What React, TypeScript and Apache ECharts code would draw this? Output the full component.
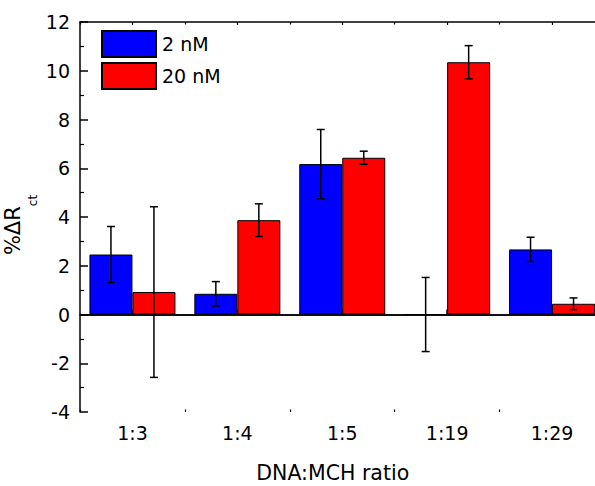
import React, { useEffect, useRef } from "react";
import * as echarts from "echarts";

const categories = ["1:3", "1:4", "1:5", "1:19", "1:29"];
const blueName = "2 nM";
const redName = "20 nM";
const blueValues = [2.46, 0.85, 6.17, 0, 2.67];
const blueErrors = [1.15, 0.5, 1.42, 1.52, 0.5];
const redValues = [0.92, 3.87, 6.43, 10.35, 0.44];
const redErrors = [3.5, 0.67, 0.27, 0.68, 0.24];
const yTicks = { min: -4, max: 12, interval: 2 };
const yTitleMain = "%ΔR";
const yTitleSub = "ct";

const FONT = "DejaVu Sans";
const BAR_W = 43;

function errData(vals: number[], errs: number[]) {
  return vals.map((v, i) => [i, v, v - errs[i], v + errs[i]]);
}

function errorRender(offset: number) {
  return (params: any, api: any) => {
    const idx = api.value(0);
    const lo = api.coord([idx, api.value(2)]);
    const hi = api.coord([idx, api.value(3)]);
    const cx = hi[0] + offset;
    const hw = 4;
    const style = { stroke: "#000", lineWidth: 1.5 };
    return {
      type: "group",
      children: [
        { type: "line", shape: { x1: cx, y1: hi[1], x2: cx, y2: lo[1] }, style },
        { type: "line", shape: { x1: cx - hw, y1: hi[1], x2: cx + hw, y2: hi[1] }, style },
        { type: "line", shape: { x1: cx - hw, y1: lo[1], x2: cx + hw, y2: lo[1] }, style },
      ],
    };
  };
}

export default function App() {
  const ref = useRef<HTMLDivElement>(null);
  useEffect(() => {
    if (!ref.current) return;
    const chart = echarts.init(ref.current, null, { renderer: "svg" });
    const axisLine = { show: true, lineStyle: { color: "#000", width: 1.5 } };
    const hiddenLabel = { show: false };
    chart.setOption({
      animation: false,
      backgroundColor: "#fff",
      textStyle: { fontFamily: FONT },
      grid: { left: 80, top: 22, right: 0.5, bottom: 74, containLabel: false, outerBoundsMode: "none" },
      legend: {
        orient: "vertical",
        left: 96,
        top: 25,
        itemWidth: 54,
        itemHeight: 26,
        itemGap: 4,
        icon: "rect",
        textStyle: { fontFamily: FONT, fontSize: 19, color: "#000", padding: [0, 0, 0, 1] },
        data: [blueName, redName],
      },
      graphic: [
        {
          type: "text",
          x: 20.5,
          y: 225,
          rotation: Math.PI / 2,
          silent: true,
          style: {
            text: `{a|${yTitleMain}}{b|${yTitleSub}}`,
            align: "center",
            verticalAlign: "middle",
            fill: "#000",
            rich: {
              a: { fontFamily: FONT, fontSize: 21, fill: "#000", lineHeight: 37, verticalAlign: "top" },
              b: { fontFamily: FONT, fontSize: 12, fill: "#000", lineHeight: 12, verticalAlign: "bottom" },
            },
          },
        },
      ],
      xAxis: [
        {
          type: "category",
          data: categories,
          position: "bottom",
          axisLine,
          axisTick: { show: true, inside: true, alignWithLabel: true, length: 5, lineStyle: { color: "#000", width: 1.5 } },
          axisLabel: { fontFamily: FONT, fontSize: 19, color: "#000", margin: 11 },
          name: "DNA:MCH ratio",
          nameLocation: "middle",
          nameGap: 50,
          nameMoveOverlap: false,
          nameTextStyle: { fontFamily: FONT, fontSize: 20.5, color: "#000", padding: [0, 19, 0, 0] },
          splitLine: { show: false },
        },
        {
          type: "category",
          data: categories,
          position: "bottom",
          axisLine: { show: false },
          axisTick: { show: true, inside: true, length: 2.5, lineStyle: { color: "#000", width: 1.2 } },
          axisLabel: hiddenLabel,
          splitLine: { show: false },
        },
        {
          type: "category",
          data: categories,
          position: "top",
          axisLine,
          axisTick: { show: true, inside: true, alignWithLabel: true, length: 3, lineStyle: { color: "#000", width: 1.2 } },
          axisLabel: hiddenLabel,
          splitLine: { show: false },
        },
        {
          type: "category",
          data: categories,
          position: "top",
          axisLine: { show: false },
          axisTick: { show: true, inside: true, length: 2.5, lineStyle: { color: "#000", width: 1.2 } },
          axisLabel: hiddenLabel,
          splitLine: { show: false },
        },
      ],
      yAxis: {
        type: "value",
        min: yTicks.min,
        max: yTicks.max,
        interval: yTicks.interval,
        axisLine,
        axisTick: { show: true, inside: true, length: 8, lineStyle: { color: "#000", width: 1.5 } },
        minorTick: { show: true, splitNumber: 2, length: 4, lineStyle: { color: "#000", width: 1.2 } },
        axisLabel: { fontFamily: FONT, fontSize: 19, color: "#000", margin: 10 },
        splitLine: { show: false },
      },
      series: [
        {
          name: blueName,
          type: "bar",
          xAxisIndex: 0,
          data: blueValues,
          barWidth: BAR_W,
          barGap: "0%",
          itemStyle: { color: "#0000FF", borderColor: "#000", borderWidth: 1 },
          markLine: {
            silent: true,
            symbol: "none",
            label: { show: false },
            lineStyle: { color: "#000", type: "solid", width: 1.5 },
            data: [{ yAxis: 0 }],
          },
        },
        {
          name: redName,
          type: "bar",
          xAxisIndex: 0,
          data: redValues,
          barWidth: BAR_W,
          barGap: "0%",
          itemStyle: { color: "#FF0000", borderColor: "#000", borderWidth: 1 },
        },
        {
          type: "custom",
          xAxisIndex: 0,
          renderItem: errorRender(-BAR_W / 2),
          data: errData(blueValues, blueErrors),
          encode: { x: 0, y: [2, 3] },
          z: 10,
        },
        {
          type: "custom",
          xAxisIndex: 0,
          renderItem: errorRender(BAR_W / 2),
          data: errData(redValues, redErrors),
          encode: { x: 0, y: [2, 3] },
          z: 10,
        },
      ],
    });
    return () => chart.dispose();
  }, []);
  return (
    <div
      ref={ref}
      style={{ position: "fixed", left: 0, top: 0, width: 605, height: 486 }}
    />
  );
}
